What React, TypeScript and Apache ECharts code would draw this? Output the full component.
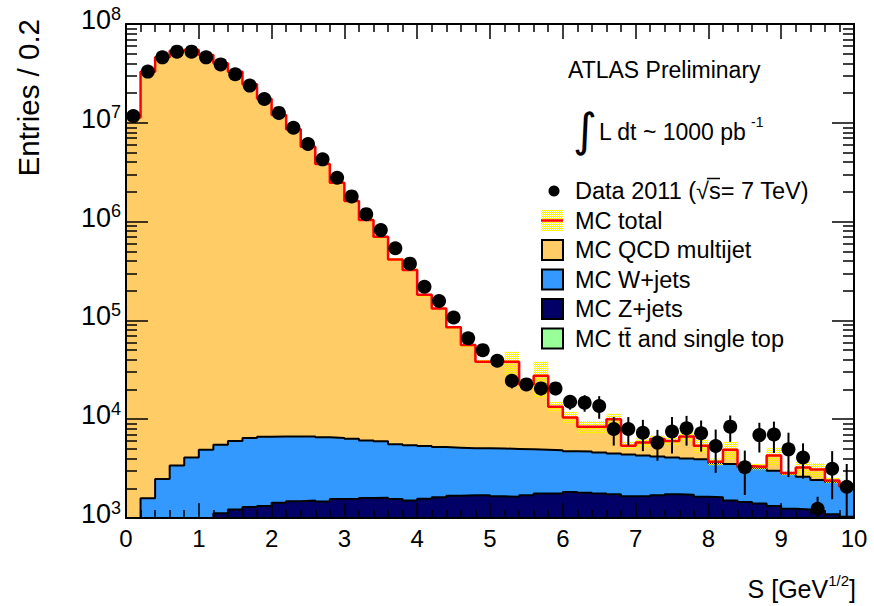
import React, { useEffect, useRef } from 'react';
import * as echarts from 'echarts';

// ---- binning (S in GeV^1/2), 50 bins of width 0.2 from 0 to 10 ----
const BIN_WIDTH = 0.2;
const N_BINS = 50;
const binEdges = Array.from({ length: N_BINS + 1 }, (_, i) => +(i * BIN_WIDTH).toFixed(1));

// ---- MC components (entries / 0.2) ----
const ttbar = [0, 5, 10, 15, 20, 25, 30, 35, 40, 40, 45, 45, 50, 50, 50, 50, 50, 50, 50, 50, 50, 50, 50, 50, 50, 50, 45, 45, 45, 45, 45, 40, 40, 40, 40, 35, 35, 35, 35, 30, 30, 30, 30, 25, 25, 25, 20, 20, 20, 20];
const zjets = [100, 245, 390, 535, 680, 825, 1090, 1185, 1250, 1280, 1385, 1435, 1450, 1420, 1510, 1510, 1540, 1550, 1510, 1450, 1520, 1570, 1630, 1650, 1650, 1610, 1595, 1655, 1725, 1725, 1785, 1760, 1730, 1700, 1620, 1625, 1665, 1705, 1685, 1610, 1590, 1470, 1420, 1375, 1295, 1215, 1200, 1160, 1070, 1010];
const wjets = [400, 1330, 2080, 2840, 3400, 4050, 4380, 4780, 5170, 5330, 5270, 5220, 5200, 5080, 4900, 4790, 4510, 4370, 4010, 3950, 3790, 3610, 3470, 3370, 3370, 3390, 3360, 3250, 3130, 3080, 2920, 2900, 2830, 2760, 2740, 2640, 2500, 2360, 2280, 2290, 2010, 2020, 1810, 1780, 1690, 1590, 1400, 1250, 1240, 1040];
const qcd = [1.13e7, 3.29e7, 4.6e7, 5.37e7, 5.46e7, 4.85e7, 4.0e7, 3.29e7, 2.45e7, 1.75e7, 1.2e7, 8.6e6, 5.72e6, 3.82e6, 2.47e6, 1.61e6, 1.03e6, 6.97e5, 4.09e5, 3.19e5, 1.76e5, 1.27e5, 79900, 51330, 33130, 33150, 33200, 17550, 22600, 8550, 5650, 3700, 3800, 5500, 1000, 1500, 2100, 1900, 2700, 1470, 70, 1380, 90, 120, 1290, 20, 630, 670, 70, 10];
// MC total uncertainty (absolute)
const mcErr = [1e5, 3e5, 4e5, 5e5, 5e5, 5e5, 4e5, 3e5, 2.5e5, 2e5, 1.5e5, 1.2e5, 1e5, 8e4, 7e4, 5e4, 3.5e4, 2.5e4, 1.5e4, 1.2e4, 7000, 5000, 3500, 2500, 1900, 2000, 10000, 2500, 10800, 1600, 1400, 1200, 1200, 1400, 500, 600, 600, 500, 700, 800, 300, 1000, 250, 250, 850, 150, 500, 500, 150, 100];

// ---- Data 2011 ----
const dataValues = [1.17e7, 3.3e7, 4.6e7, 5.25e7, 5.25e7, 4.6e7, 3.9e7, 3.1e7, 2.38e7, 1.74e7, 1.26e7, 8.9e6, 6.1e6, 4.27e6, 2.78e6, 1.8e6, 1.19e6, 8.2e5, 5.37e5, 3.75e5, 2.19e5, 1.57e5, 1.07e5, 6.6e4, 5.0e4, 3.9e4, 2.45e4, 2.25e4, 2.05e4, 2.05e4, 1.5e4, 1.47e4, 1.36e4, 7960, 7960, 7300, 5800, 7500, 8100, 7200, 5360, 8400, 3260, 6900, 7000, 4950, 4100, 1240, 3150, 2070];
const dataErr = [3e4, 6e4, 7e4, 7e4, 7e4, 7e4, 6e4, 6e4, 5e4, 4e4, 3e4, 3e4, 2e4, 2e4, 1.5e4, 1.2e4, 1e4, 8000, 6000, 5000, 4000, 3500, 3000, 3000, 3000, 3000, 4000, 2700, 3100, 3000, 2500, 2800, 3500, 2550, 2550, 2550, 2000, 3000, 2700, 2500, 2500, 2500, 1550, 2300, 2450, 2350, 1600, 400, 1600, 1450];

// ---- axis ticks ----
const xTicks = [0, 1, 2, 3, 4, 5, 6, 7, 8, 9, 10];
const yDecades = [1e3, 1e4, 1e5, 1e6, 1e7, 1e8];

const FONT = '"Liberation Sans", Arial, Helvetica, sans-serif';

const COLORS = {
  qcd: '#FFCC66',
  w: '#3399FF',
  z: '#000066',
  tt: '#99FF99',
  red: '#FF0000',
};

function makeHatch() {
  const c = document.createElement('canvas');
  c.width = 2;
  c.height = 2;
  const ctx = c.getContext('2d')!;
  ctx.fillStyle = '#FFF200';
  ctx.fillRect(0, 0, 1, 1);
  ctx.fillRect(1, 1, 1, 1);
  return { image: c, repeat: 'repeat', imageWidth: 2, imageHeight: 2 } as any;
}

export default function App() {
  const ref = useRef<HTMLDivElement>(null);

  useEffect(() => {
    if (!ref.current) return;
    const chart = echarts.init(ref.current, null, { renderer: 'svg' });
    const hatch = makeHatch();

    const stackTT = ttbar.slice();
    const stackZ = stackTT.map((v, i) => v + zjets[i]);
    const stackW = stackZ.map((v, i) => v + wjets[i]);
    const stackTotal = stackW.map((v, i) => v + qcd[i]);
    const stepData = (arr: number[]) =>
      arr.map((v, i) => [binEdges[i], v]).concat([[binEdges[N_BINS], arr[N_BINS - 1]]]);
    const centers = binEdges.slice(0, N_BINS).map((e) => +(e + BIN_WIDTH / 2).toFixed(2));

    const areaSeries = (name: string, arr: number[], color: string, lineColor: string, lw: number, z: number) => ({
      name,
      type: 'line',
      step: 'end',
      data: stepData(arr),
      showSymbol: false,
      symbol: 'none',
      silent: true,
      z,
      lineStyle: { color: lineColor, width: lw },
      itemStyle: { color },
      areaStyle: { color, opacity: 1, origin: 'start' },
    });

    const axisCommon = {
      type: 'value',
      min: 0,
      max: 10,
      interval: 1,
      z: 50,
      splitLine: { show: false },
      axisLine: { show: true, onZero: false, lineStyle: { color: '#000', width: 2 } },
      axisTick: { show: true, inside: true, length: 15, lineStyle: { color: '#000', width: 1.5 } },
      minorTick: { show: true, splitNumber: 5, length: 8, lineStyle: { color: '#000', width: 1.5 } },
    };
    const yCommon = {
      type: 'log',
      logBase: 10,
      min: yDecades[0],
      max: yDecades[yDecades.length - 1],
      z: 50,
      splitLine: { show: false },
      axisLine: { show: true, onZero: false, lineStyle: { color: '#000', width: 2 } },
      axisTick: { show: true, inside: true, length: 22, lineStyle: { color: '#000', width: 1.5 } },
      minorTick: { show: true, splitNumber: 9, length: 11, lineStyle: { color: '#000', width: 1.5 } },
    };

    const legendY = [191, 220.5, 250, 279.5, 309, 338.5];
    const legendText = [
      'Data 2011 (√s= 7 TeV)',
      'MC total',
      'MC QCD multijet',
      'MC W+jets',
      'MC Z+jets',
      'MC tt\u0304 and single top',
    ];
    const boxColors = [COLORS.qcd, COLORS.w, COLORS.z, COLORS.tt];

    const graphics: any[] = [
      // axis titles
      {
        type: 'text', x: 28, y: 19, rotation: Math.PI / 2, z: 100,
        style: { text: 'Entries / 0.2', font: `29.5px ${FONT}`, fill: '#000', align: 'right', verticalAlign: 'middle' },
      },
      {
        type: 'text', x: 856, y: 588, z: 100,
        style: {
          text: '{n|S [GeV}{s|1/2}{n|]}', align: 'right', verticalAlign: 'middle', fill: '#000',
          rich: {
            n: { fontSize: 25, fontFamily: FONT, verticalAlign: 'bottom', lineHeight: 26 },
            s: { fontSize: 15, fontFamily: FONT, verticalAlign: 'bottom', lineHeight: 15, padding: [0, 0, 13, 0] },
          },
        },
      },
      // ATLAS label
      {
        type: 'text', x: 568, y: 70, z: 100,
        style: { text: 'ATLAS Preliminary', font: `23px ${FONT}`, fill: '#000', verticalAlign: 'middle' },
      },
      {
        type: 'text', x: 585, y: 130, z: 100,
        style: { text: '∫', font: `46px "DejaVu Sans", ${FONT}`, fill: '#000', align: 'center', verticalAlign: 'middle' },
      },
      {
        type: 'text', x: 599, y: 132, z: 100,
        style: { text: 'L dt ~ 1000 pb', font: `23px ${FONT}`, fill: '#000', verticalAlign: 'middle' },
      },
      {
        type: 'text', x: 751, y: 122, z: 100,
        style: { text: '-1', font: `14px ${FONT}`, fill: '#000', verticalAlign: 'middle' },
      },
      // overline of sqrt(s)
      { type: 'line', z: 101, shape: { x1: 707, y1: 178.5, x2: 720, y2: 178.5 }, style: { stroke: '#000', lineWidth: 1.5 } },
      // legend markers
      { type: 'circle', z: 100, shape: { cx: 554, cy: legendY[0], r: 5.5 }, style: { fill: '#000' } },
      { type: 'rect', z: 100, shape: { x: 541, y: legendY[1] - 10.5, width: 22, height: 21 }, style: { fill: hatch } },
      { type: 'line', z: 101, shape: { x1: 541, y1: legendY[1], x2: 563, y2: legendY[1] }, style: { stroke: COLORS.red, lineWidth: 2.5 } },
      ...boxColors.map((c, k) => ({
        type: 'rect', z: 100,
        shape: { x: 542, y: legendY[k + 2] - 10, width: 21, height: 20 },
        style: { fill: c, stroke: '#000', lineWidth: 2 },
      })),
      ...legendText.map((t, k) => ({
        type: 'text', x: 575, y: legendY[k], z: 100,
        style: { text: t, font: `23.5px ${FONT}`, fill: '#000', verticalAlign: 'middle' },
      })),
    ];

    chart.setOption({
      animation: false,
      backgroundColor: '#fff',
      grid: { left: 126, right: 20, top: 24, bottom: 88 },
      xAxis: [
        {
          ...axisCommon,
          position: 'bottom',
          axisLabel: { show: true, color: '#000', fontSize: 24, fontFamily: FONT, margin: 8,
            formatter: (v: number) => (xTicks.includes(v) ? String(v) : '') },
        },
        { ...axisCommon, position: 'top', axisLabel: { show: false } },
      ],
      yAxis: [
        {
          ...yCommon,
          position: 'left',
          axisLabel: {
            show: true, color: '#000', margin: 5, fontSize: 27, fontFamily: FONT,
            formatter: (v: number) => `{b|10}{s|${Math.round(Math.log10(v))}}`,
            rich: {
              b: { fontSize: 27, fontFamily: FONT, lineHeight: 27, verticalAlign: 'bottom', padding: [0, 0, 4, 0] },
              s: { fontSize: 18, fontFamily: FONT, lineHeight: 18, verticalAlign: 'bottom', padding: [0, 0, 15, 0] },
            },
          },
        },
        { ...yCommon, position: 'right', axisLabel: { show: false } },
      ],
      series: [
        areaSeries('MC QCD multijet', stackTotal, COLORS.qcd, COLORS.qcd, 0, 2),
        areaSeries('MC W+jets', stackW, COLORS.w, '#000', 2, 3),
        areaSeries('MC Z+jets', stackZ, COLORS.z, '#000', 2, 4),
        areaSeries('MC tt and single top', stackTT, COLORS.tt, '#000', 2, 5),
        {
          name: 'MC total uncertainty',
          type: 'custom',
          z: 6,
          silent: true,
          encode: { x: [0, 1], y: 2 },
          data: stackTotal.map((v, i) => [binEdges[i], binEdges[i + 1], v, mcErr[i]]),
          renderItem: (params: any, api: any) => {
            const x0 = api.value(0), x1 = api.value(1), v = api.value(2), e = api.value(3);
            const p0 = api.coord([x0, v + e]);
            const p1 = api.coord([x1, Math.max(v - e, 1)]);
            const cs = params.coordSys;
            const shape = echarts.graphic.clipRectByRect(
              { x: p0[0], y: p0[1], width: p1[0] - p0[0], height: p1[1] - p0[1] },
              { x: cs.x, y: cs.y, width: cs.width, height: cs.height }
            );
            if (!shape) return null;
            return { type: 'rect', shape, style: { fill: hatch } };
          },
        },
        {
          name: 'MC total',
          type: 'line',
          step: 'end',
          z: 7,
          silent: true,
          data: stepData(stackTotal),
          showSymbol: false,
          symbol: 'none',
          lineStyle: { color: COLORS.red, width: 2.5 },
        },
        {
          name: 'Data error',
          type: 'custom',
          z: 8,
          silent: true,
          encode: { x: 0, y: 1 },
          data: dataValues.map((v, i) => [centers[i], v, dataErr[i]]),
          renderItem: (params: any, api: any) => {
            const x = api.value(0), v = api.value(1), e = api.value(2);
            const top = api.coord([x, v + e]);
            const bot = api.coord([x, Math.max(v - e, 1)]);
            const cs = params.coordSys;
            const y1 = Math.max(top[1], cs.y);
            const y2 = Math.min(bot[1], cs.y + cs.height);
            return { type: 'line', shape: { x1: top[0], y1, x2: top[0], y2 }, style: { stroke: '#000', lineWidth: 2 } };
          },
        },
        {
          name: 'Data 2011',
          type: 'scatter',
          z: 9,
          silent: true,
          symbol: 'circle',
          symbolSize: 14,
          itemStyle: { color: '#000', opacity: 1 },
          data: dataValues.map((v, i) => [centers[i], v]),
        },
      ],
      graphic: graphics,
    });

    return () => chart.dispose();
  }, []);

  return (
    <div
      ref={ref}
      style={{ position: 'fixed', left: 0, top: 0, width: 874, height: 606, background: '#fff' }}
    />
  );
}
